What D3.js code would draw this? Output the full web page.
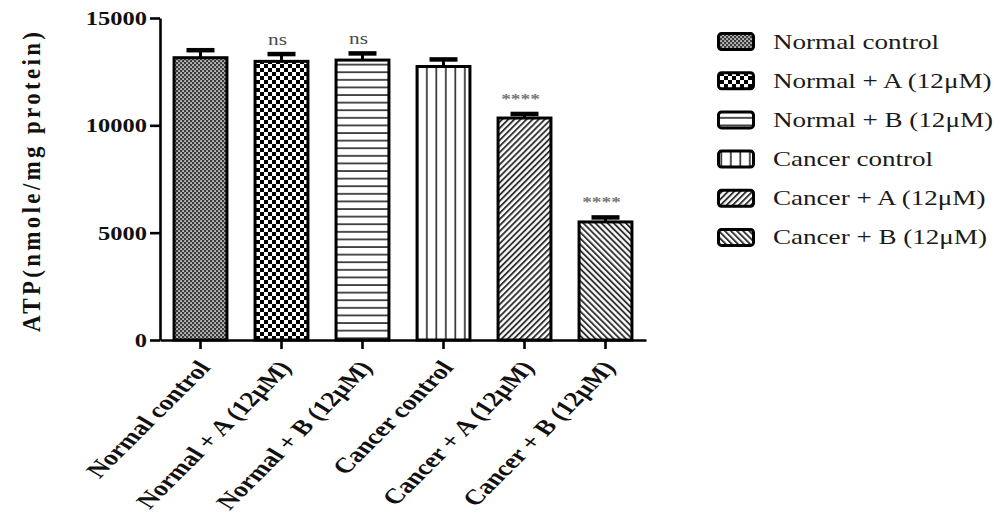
<!DOCTYPE html>
<html>
<head>
<meta charset="utf-8">
<script src="https://cdn.jsdelivr.net/npm/d3@7/dist/d3.min.js"></script>
<style>
  html, body { margin: 0; padding: 0; background: #fff; }
  svg { display: block; }
  text { font-family: "Liberation Serif", "Times New Roman", serif; }
</style>
</head>
<body>
<svg id="chart" width="1000" height="520"></svg>
<script>
const categories = ["Normal control", "Normal + A (12\u03BCM)", "Normal + B (12\u03BCM)", "Cancer control", "Cancer + A (12\u03BCM)", "Cancer + B (12\u03BCM)"];
const means = [13150, 12980, 13040, 12740, 10340, 5500];
const errors = [350, 340, 310, 330, 190, 210];
const significance = ["", "ns", "ns", "", "****", "****"];
const yTicks = [0, 5000, 10000, 15000];
const yTitle = "ATP(nmole/mg protein)";
const patternIds = ["pNC", "pNA", "pNB", "pCC", "pCA", "pCB"];

const SX = 1.29; // horizontal stretch of text in the reference
const svg = d3.select("#chart");
const defs = svg.append("defs");

// Patterns
(function () {
  let p = defs.append("pattern").attr("id", "pNC").attr("patternUnits", "userSpaceOnUse").attr("width", 4).attr("height", 4);
  p.append("rect").attr("width", 4).attr("height", 4).attr("fill", "#3c3c3c");
  p.append("rect").attr("x", 0.3).attr("y", 0.3).attr("width", 1.5).attr("height", 1.5).attr("fill", "#fff");
  p.append("rect").attr("x", 2.3).attr("y", 2.3).attr("width", 1.5).attr("height", 1.5).attr("fill", "#fff");

  p = defs.append("pattern").attr("id", "pNA").attr("patternUnits", "userSpaceOnUse").attr("width", 8).attr("height", 8);
  p.append("rect").attr("width", 8).attr("height", 8).attr("fill", "#fff");
  p.append("rect").attr("x", 0).attr("y", 0).attr("width", 4).attr("height", 4).attr("fill", "#000");
  p.append("rect").attr("x", 4).attr("y", 4).attr("width", 4).attr("height", 4).attr("fill", "#000");

  p = defs.append("pattern").attr("id", "pNB").attr("patternUnits", "userSpaceOnUse").attr("width", 8).attr("height", 7.6);
  p.append("rect").attr("width", 8).attr("height", 7.6).attr("fill", "#fff");
  p.append("rect").attr("x", 0).attr("y", 3).attr("width", 8).attr("height", 1.7).attr("fill", "#333");

  p = defs.append("pattern").attr("id", "pCC").attr("patternUnits", "userSpaceOnUse").attr("width", 9.5).attr("height", 8).attr("x", 175);
  p.append("rect").attr("width", 9.5).attr("height", 8).attr("fill", "#fff");
  p.append("rect").attr("x", 4).attr("y", 0).attr("width", 1.7).attr("height", 8).attr("fill", "#333");

  p = defs.append("pattern").attr("id", "pCA").attr("patternUnits", "userSpaceOnUse").attr("width", 4.3).attr("height", 8).attr("patternTransform", "rotate(45)");
  p.append("rect").attr("width", 4.3).attr("height", 8).attr("fill", "#fff");
  p.append("rect").attr("x", 0).attr("y", 0).attr("width", 1.9).attr("height", 8).attr("fill", "#333");

  p = defs.append("pattern").attr("id", "pCB").attr("patternUnits", "userSpaceOnUse").attr("width", 4.3).attr("height", 8).attr("patternTransform", "rotate(-45)");
  p.append("rect").attr("width", 4.3).attr("height", 8).attr("fill", "#fff");
  p.append("rect").attr("x", 0).attr("y", 0).attr("width", 1.9).attr("height", 8).attr("fill", "#333");
})();

const x = d3.scaleBand().domain(categories).range([160, 646]).paddingInner(0.31).paddingOuter(0.155);
const y = d3.scaleLinear().domain([0, 15000]).range([340, 18]);

// Bars
const bw = x.bandwidth();
svg.append("g").selectAll("rect").data(categories).join("rect")
  .attr("x", d => x(d) + 1.5)
  .attr("width", bw - 3)
  .attr("y", (d, i) => y(means[i]))
  .attr("height", (d, i) => y(0) - y(means[i]))
  .attr("fill", (d, i) => `url(#${patternIds[i]})`)
  .attr("stroke", "#000")
  .attr("stroke-width", 3);

// Error bars
const eg = svg.append("g");
categories.forEach((c, i) => {
  const cx = x(c) + bw / 2;
  eg.append("line").attr("x1", cx).attr("x2", cx).attr("y1", y(means[i])).attr("y2", y(means[i] + errors[i]))
    .attr("stroke", "#000").attr("stroke-width", 3);
  eg.append("line").attr("x1", cx - 14).attr("x2", cx + 14).attr("y1", y(means[i] + errors[i])).attr("y2", y(means[i] + errors[i]))
    .attr("stroke", "#000").attr("stroke-width", 4.5);
  const s = significance[i];
  if (s) {
    const isStar = s.startsWith("*");
    const ty = isStar ? y(means[i] + errors[i]) - 10 : y(means[i] + errors[i]) - 9;
    eg.append("g").attr("transform", `translate(${cx - 4},${ty}) scale(${SX},1)`)
      .append("text").attr("text-anchor", "middle")
      .attr("font-size", isStar ? 15 : 16.5)
      .attr("font-weight", isStar ? "bold" : "normal")
      .attr("fill", isStar ? "#777" : "#4a4a4a")
      .text(s);
  }
});

// Y axis
const yAxis = svg.append("g").attr("transform", "translate(160,0)")
  .call(d3.axisLeft(y).tickValues(yTicks).tickSize(10).tickSizeOuter(0).tickFormat(""));
yAxis.selectAll("path, line").attr("stroke", "#000").attr("stroke-width", 2.6);
yTicks.forEach(t => {
  svg.append("g").attr("transform", `translate(147,${y(t) + 7}) scale(${SX},1)`)
    .append("text").attr("text-anchor", "end").attr("font-size", 19).attr("font-weight", "bold").attr("fill", "#111")
    .text(t);
});

// X axis
const xAxis = svg.append("g").attr("transform", "translate(0,340)")
  .call(d3.axisBottom(x).tickSize(9).tickSizeOuter(0).tickFormat(""));
xAxis.selectAll("path, line").attr("stroke", "#000").attr("stroke-width", 2.6);
categories.forEach(c => {
  const cx = x(c) + bw / 2;
  svg.append("g").attr("transform", `translate(${cx + 11},${368}) scale(${SX},1) rotate(-52)`)
    .append("text").attr("text-anchor", "end").attr("font-size", 21.5).attr("font-weight", "bold").attr("fill", "#111")
    .text(c);
});

// Y title
svg.append("g").attr("transform", `translate(40,182) scale(1.12,1) rotate(-90)`)
  .append("text").attr("text-anchor", "middle").attr("font-size", 23).attr("font-weight", "bold").attr("fill", "#111")
  .attr("textLength", 300).attr("lengthAdjust", "spacing")
  .text(yTitle);

// Legend
const legendY = d3.scaleBand().domain(categories).range([22, 257]);
const lg = svg.append("g");
categories.forEach((c, i) => {
  const cy = legendY(c) + legendY.bandwidth() / 2;
  lg.append("rect").attr("x", 718.5).attr("y", cy - 8).attr("width", 35).attr("height", 16).attr("rx", 3)
    .attr("fill", `url(#${patternIds[i]})`).attr("stroke", "#000").attr("stroke-width", 3);
  lg.append("g").attr("transform", `translate(773,${cy + 7}) scale(${SX},1)`)
    .append("text").attr("font-size", 21).attr("fill", "#1a1a1a").text(c);
});
</script>
</body>
</html>
